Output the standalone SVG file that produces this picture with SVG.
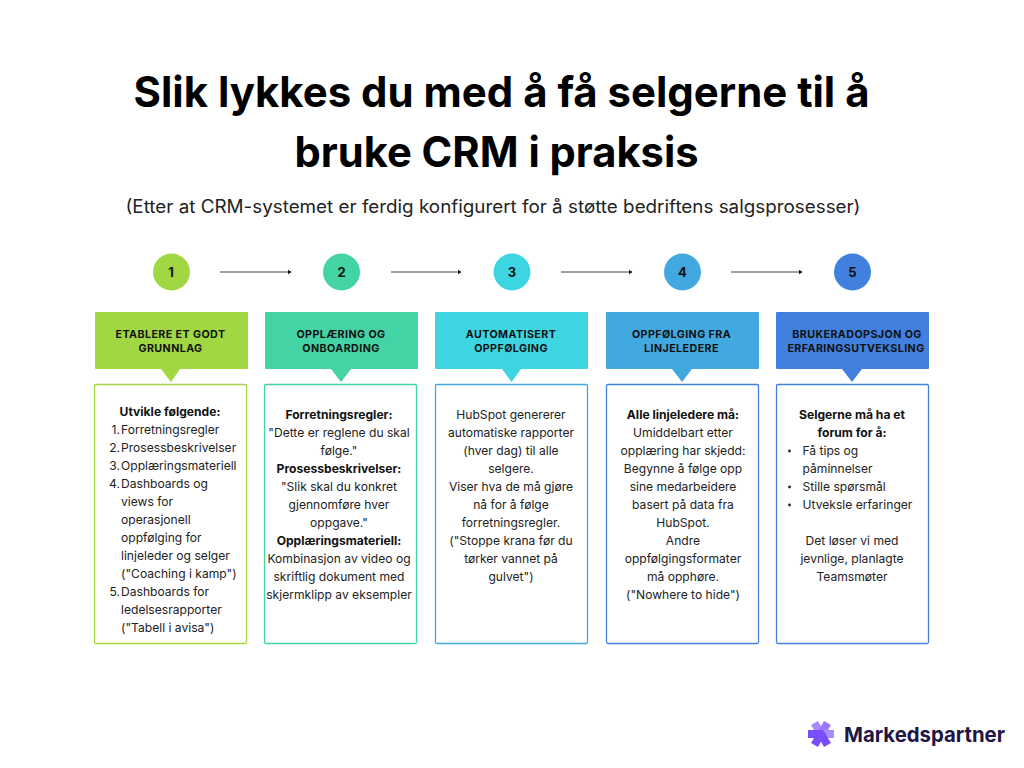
<svg xmlns="http://www.w3.org/2000/svg" width="1024" height="768" viewBox="0 0 1024 768">
<style>
text{font-family:Inter,"Noto Sans",sans-serif;fill:#111}
.title{font-size:42.500px;font-weight:700;fill:#000;text-anchor:middle}
.sub{font-size:18px;fill:#222;text-anchor:middle}
.num{font-size:13px;font-weight:700;text-anchor:middle}
.head{font-size:10.700px;font-weight:700;text-anchor:middle;letter-spacing:.42px}
.b{font-size:12.100px;fill:#222}
.m{text-anchor:middle}
.bd{font-weight:700;fill:#111}
.r{text-anchor:end}
.box{fill:#fff;stroke-width:1.3}
.conn{stroke:#444;stroke-width:1;fill:none;marker-end:url(#a)}
.arm{stroke-width:8;fill:none}
</style>
<defs><marker id="a" markerWidth="5" markerHeight="5" refX="3.5" refY="2.5" orient="auto" markerUnits="userSpaceOnUse"><path d="M0,0L4,2.500L0,5z" fill="#111"/></marker></defs>
<rect width="1024" height="768" fill="#fff"/>
<text class="title" x="501.500" y="106.500" textLength="736" lengthAdjust="spacingAndGlyphs">Slik lykkes du med å få selgerne til å</text>
<text class="title" x="496.500" y="167" textLength="404" lengthAdjust="spacingAndGlyphs">bruke CRM i praksis</text>
<text class="sub" x="493" y="212.500" textLength="735" lengthAdjust="spacingAndGlyphs">(Etter at CRM-systemet er ferdig konfigurert for å støtte bedriftens salgsprosesser)</text>
<g id="connectors">
<path class="conn" d="M220,272H291"/><path class="conn" d="M391,272H461"/><path class="conn" d="M561,272H632"/><path class="conn" d="M731,272H802"/>
</g>
<g id="node1">
<circle cx="171.500" cy="272" r="18.500" fill="#a0d742"/><text class="num" x="171" y="276.500">1</text>
<path d="M96,312H247a1,1 0 0 1 1,1V368a1,1 0 0 1-1,1H180L171,382L161,369H96a1,1 0 0 1-1-1V313a1,1 0 0 1 1-1z" fill="#a0d742"/>
<text class="head" x="170.500" y="338">ETABLERE ET GODT</text><text class="head" x="170.500" y="352">GRUNNLAG</text>
<rect class="box" x="94.500" y="384.500" width="152" height="259" rx="1.500" stroke="#a0d742"/>
<text class="b bd m" x="170" y="416">Utvikle følgende:</text>
<text class="b r" x="120" y="434">1.</text><text class="b" x="121" y="434">Forretningsregler</text>
<text class="b r" x="120" y="452">2.</text><text class="b" x="121" y="452">Prosessbeskrivelser</text>
<text class="b r" x="120" y="470">3.</text><text class="b" x="121" y="470">Opplæringsmateriell</text>
<text class="b r" x="120" y="488">4.</text><text class="b" x="121" y="488">Dashboards og</text>
<text class="b" x="121" y="506">views for</text>
<text class="b" x="121" y="524">operasjonell</text>
<text class="b" x="121" y="542">oppfølging for</text>
<text class="b" x="121" y="560">linjeleder og selger</text>
<text class="b" x="121" y="578">("Coaching i kamp")</text>
<text class="b r" x="120" y="596">5.</text><text class="b" x="121" y="596">Dashboards for</text>
<text class="b" x="121" y="614">ledelsesrapporter</text>
<text class="b" x="121" y="632">("Tabell i avisa")</text>
</g>
<g id="node2">
<circle cx="341.500" cy="272" r="18.500" fill="#44d3a4"/><text class="num" x="341.500" y="276.500">2</text>
<path d="M266,312H417a1,1 0 0 1 1,1V368a1,1 0 0 1-1,1H351L341,382L331,369H266a1,1 0 0 1-1-1V313a1,1 0 0 1 1-1z" fill="#44d3a4"/>
<text class="head" x="341" y="338">OPPLÆRING OG</text><text class="head" x="341" y="352">ONBOARDING</text>
<rect class="box" x="264.500" y="384.500" width="152" height="259" rx="1.500" stroke="#44d3a4"/>
<text class="b bd m" x="339" y="419">Forretningsregler:</text>
<text class="b m" x="339" y="437">"Dette er reglene du skal</text>
<text class="b m" x="339" y="455">følge."</text>
<text class="b bd m" x="339" y="473">Prosessbeskrivelser:</text>
<text class="b m" x="339" y="491">"Slik skal du konkret</text>
<text class="b m" x="339" y="509">gjennomføre hver</text>
<text class="b m" x="339" y="527">oppgave."</text>
<text class="b bd m" x="339" y="545">Opplæringsmateriell:</text>
<text class="b m" x="339" y="563">Kombinasjon av video og</text>
<text class="b m" x="339" y="581">skriftlig dokument med</text>
<text class="b m" x="339" y="599">skjermklipp av eksempler</text>
</g>
<g id="node3">
<circle cx="512" cy="272" r="18.500" fill="#3ed5e3"/><text class="num" x="512" y="276.500">3</text>
<path d="M436,312H587a1,1 0 0 1 1,1V368a1,1 0 0 1-1,1H521L511.500,382L502,369H436a1,1 0 0 1-1-1V313a1,1 0 0 1 1-1z" fill="#3ed5e3"/>
<text class="head" x="511" y="338">AUTOMATISERT</text><text class="head" x="511" y="352">OPPFØLGING</text>
<rect class="box" x="435.500" y="384.500" width="152" height="259" rx="1.500" stroke="#41a8e0"/>
<text class="b m" x="511" y="419">HubSpot genererer</text>
<text class="b m" x="511" y="437">automatiske rapporter</text>
<text class="b m" x="511" y="455">(hver dag) til alle</text>
<text class="b m" x="511" y="473">selgere.</text>
<text class="b m" x="511" y="491">Viser hva de må gjøre</text>
<text class="b m" x="511" y="509">nå for å følge</text>
<text class="b m" x="511" y="527">forretningsregler.</text>
<text class="b m" x="511" y="545">("Stoppe krana før du</text>
<text class="b m" x="511" y="563">tørker vannet på</text>
<text class="b m" x="511" y="581">gulvet")</text>
</g>
<g id="node4">
<circle cx="682.500" cy="272" r="18.500" fill="#41a8e0"/><text class="num" x="682.500" y="276.500">4</text>
<path d="M607,312H758a1,1 0 0 1 1,1V368a1,1 0 0 1-1,1H692L682,382L672,369H607a1,1 0 0 1-1-1V313a1,1 0 0 1 1-1z" fill="#41a8e0"/>
<text class="head" x="681.500" y="338">OPPFØLGING FRA</text><text class="head" x="681.500" y="352">LINJELEDERE</text>
<rect class="box" x="606.500" y="384.500" width="152" height="259" rx="1.500" stroke="#4180de"/>
<text class="b bd m" x="683" y="419">Alle linjeledere må:</text>
<text class="b m" x="683" y="437">Umiddelbart etter</text>
<text class="b m" x="683" y="455">opplæring har skjedd:</text>
<text class="b m" x="683" y="473">Begynne å følge opp</text>
<text class="b m" x="683" y="491">sine medarbeidere</text>
<text class="b m" x="683" y="509">basert på data fra</text>
<text class="b m" x="683" y="527">HubSpot.</text>
<text class="b m" x="683" y="545">Andre</text>
<text class="b m" x="683" y="563">oppfølgingsformater</text>
<text class="b m" x="683" y="581">må opphøre.</text>
<text class="b m" x="683" y="599">("Nowhere to hide")</text>
</g>
<g id="node5">
<circle cx="852.500" cy="272" r="18.500" fill="#4180de"/><text class="num" x="852.500" y="276.500">5</text>
<path d="M777,312H928a1,1 0 0 1 1,1V368a1,1 0 0 1-1,1H862L852,382L842,369H777a1,1 0 0 1-1-1V313a1,1 0 0 1 1-1z" fill="#4180de"/>
<text class="head" x="857" y="338">BRUKERADOPSJON OG</text><text class="head" x="856" y="352">ERFARINGSUTVEKSLING</text>
<rect class="box" x="776.500" y="384.500" width="152" height="259" rx="1.500" stroke="#4180de"/>
<text class="b bd m" x="852" y="419">Selgerne må ha et</text>
<text class="b bd m" x="852" y="437">forum for å:</text>
<circle cx="789.500" cy="451" r="1.400" fill="#222"/><text class="b" x="802.500" y="455">Få tips og</text>
<text class="b" x="802.500" y="473">påminnelser</text>
<circle cx="789.500" cy="487" r="1.400" fill="#222"/><text class="b" x="802.500" y="491">Stille spørsmål</text>
<circle cx="789.500" cy="505" r="1.400" fill="#222"/><text class="b" x="802.500" y="509">Utveksle erfaringer</text>
<text class="b m" x="852" y="545">Det løser vi med</text>
<text class="b m" x="852" y="563">jevnlige, planlagte</text>
<text class="b m" x="852" y="581">Teamsmøter</text>
</g>
<g id="logo">
<path class="arm" d="M821,734L814.500,723" stroke="#a78bff"/>
<path class="arm" d="M821,734L827.500,723" stroke="#9a78ff"/>
<path class="arm" d="M821,734H834" stroke="#a78bff"/>
<path class="arm" d="M821,734H808" stroke="#7a4dff"/>
<path class="arm" d="M821,734L814.500,745" stroke="#7a4dff"/>
<path class="arm" d="M821,734L827.500,745" stroke="#7a4dff"/>
<path d="M817,730H823L827,738L821,741L816,738z" fill="#7a4dff"/>
<text x="844" y="742" style="font-size:20.500px;font-weight:700;fill:#1f1645" textLength="161" lengthAdjust="spacingAndGlyphs">Markedspartner</text>
</g>
</svg>
